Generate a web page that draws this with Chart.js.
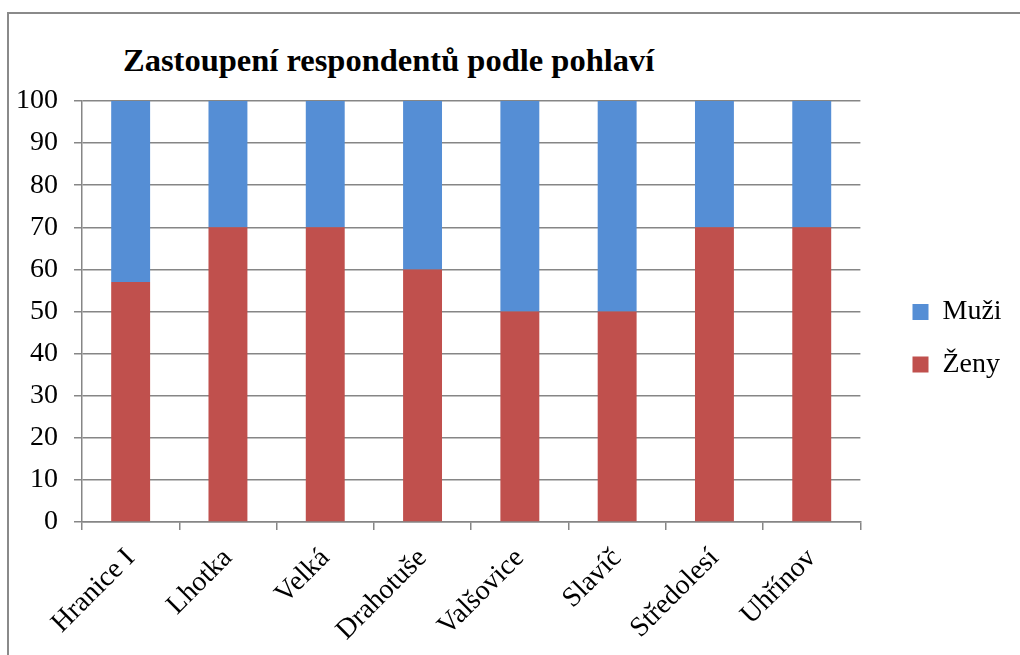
<!DOCTYPE html>
<html>
<head>
<meta charset="utf-8">
<script src="https://cdn.jsdelivr.net/npm/chart.js"></script>
<style>
    html, body { margin: 0; padding: 0; background: #fff; overflow: hidden; }
    #frame { position: absolute; left: 7px; top: 12px; width: 1100px; height: 700px; border: 2px solid #8a8a8a; }
    #title { position: absolute; left: 123px; top: 41px; font-family: "Liberation Serif", serif; font-weight: bold; font-size: 32.5px; line-height: 38px; color: #000; white-space: nowrap; }
    #wrap { position: absolute; left: 0; top: 0; width: 1020px; height: 655px; }
</style>
</head>
<body>
<div id="frame"></div>
<div id="title">Zastoupení respondentů podle pohlaví</div>
<div id="wrap"><canvas id="chart"></canvas></div>
<script>
const categories = ["Hranice I", "Lhotka", "Velká", "Drahotuše", "Valšovice", "Slavíč", "Středolesí", "Uhřínov"];
const zeny = [57, 70, 70, 60, 50, 50, 70, 70];
const muzi = [43, 30, 30, 40, 50, 50, 30, 30];
const yTicks = [0, 10, 20, 30, 40, 50, 60, 70, 80, 90, 100];

Chart.defaults.font.family = "'Liberation Serif', 'Times New Roman', serif";
Chart.defaults.font.size = 28;
Chart.defaults.color = "#000";

// put the legend where Excel had it
const legendPlace = {
    id: "legendPlace",
    afterLayout(chart) {
        const lg = chart.legend;
        const w = lg.width, h = lg.height;
        lg.left = 888; lg.right = lg.left + w;
        lg.top = 273.5; lg.bottom = lg.top + h;
    }
};

document.addEventListener("DOMContentLoaded", function () {
    const ctx = document.getElementById("chart").getContext("2d");
    new Chart(ctx, {
        type: "bar",
        data: {
            labels: categories,
            datasets: [
                { label: "Ženy", data: zeny, backgroundColor: "#C0504D", borderWidth: 0, categoryPercentage: 1, barPercentage: 0.4 },
                { label: "Muži", data: muzi, backgroundColor: "#558ED5", borderWidth: 0, categoryPercentage: 1, barPercentage: 0.4 }
            ]
        },
        options: {
            responsive: true,
            maintainAspectRatio: false,
            animation: false,
            layout: { padding: { left: 14, top: 101, right: 36, bottom: 0 } },
            plugins: {
                title: { display: false },
                tooltip: { enabled: false },
                legend: {
                    position: "right",
                    align: "start",
                    fullSize: false,
                    reverse: true,
                    maxWidth: 130,
                    labels: {
                        font: { family: "'Liberation Serif', 'Times New Roman', serif", size: 28 },
                        boxWidth: 16,
                        boxHeight: 16,
                        padding: 24.5
                    }
                }
            },
            scales: {
                x: {
                    stacked: true,
                    grid: { display: true, offset: true, drawOnChartArea: false, drawTicks: true, tickLength: 8, color: "#868686", lineWidth: 1.5 },
                    border: { display: true, color: "#868686", width: 1.5 },
                    ticks: {
                        font: { family: "'Liberation Serif', 'Times New Roman', serif", size: 28 },
                        minRotation: 45, maxRotation: 45, autoSkip: false, padding: 12
                    },
                    afterFit(scale) { scale.height = 133; }
                },
                y: {
                    stacked: true,
                    min: 0,
                    max: 100,
                    afterBuildTicks(scale) { scale.ticks = yTicks.map(v => ({ value: v })); },
                    grid: { color: "#868686", lineWidth: 1.5, tickLength: 8 },
                    border: { display: true, color: "#868686", width: 1.5 },
                    ticks: {
                        font: { family: "'Liberation Serif', 'Times New Roman', serif", size: 28 },
                        padding: 16
                    },
                    afterFit(scale) { scale.width = 68; }
                }
            }
        },
        plugins: [legendPlace]
    });
});
</script>
</body>
</html>
